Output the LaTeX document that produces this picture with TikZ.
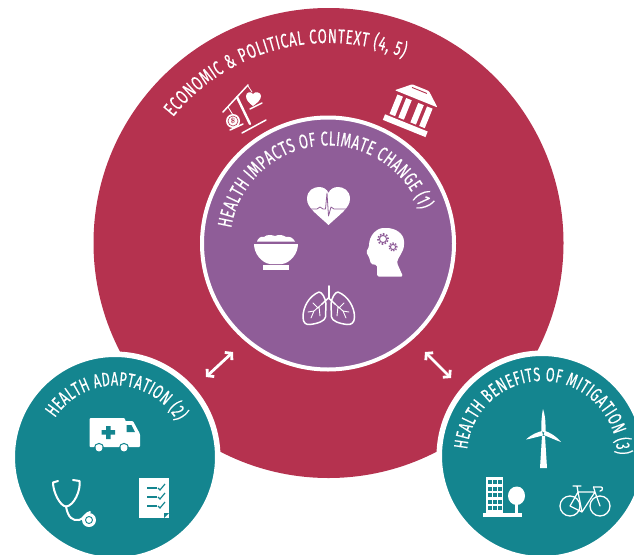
\documentclass[tikz,border=0pt]{standalone}
\usepackage{fontspec}
\usetikzlibrary{decorations.text,arrows.meta}
\newfontfamily\condfont[FakeStretch=0.66,FakeBold=0.25]{Fira Sans}
\definecolor{outerred}{RGB}{181,50,79}
\definecolor{innerpurple}{RGB}{143,93,152}
\definecolor{sideteal}{RGB}{20,133,143}
\newcommand{\arclabel}[6]{% centre,start,end,r,text,size
  \path[decorate,decoration={text along path,text align={fit to path},
    text={|\condfont\fontsize{#6}{#6}\selectfont\color{white}|#5}}]
    (#1) ++(#2:#4pt) arc[start angle=#2,end angle=#3,radius=#4pt];}
\tikzset{
  ring/.style={circle,inner sep=0pt,outer sep=0pt,draw=white},
  icoline/.style={draw=white,line width=1.5pt,line cap=round,line join=round,fill=none},
  bothways/.style={draw=white,line width=2.8pt,{Straight Barb[length=4.5pt,width=10.5pt]}-{Straight Barb[length=4.5pt,width=10.5pt]}}
}
\begin{document}
\begin{tikzpicture}[x=1pt,y=-1pt]
\useasboundingbox (0,0) rectangle (634,554);
\clip (0,0) rectangle (634,554);
% main circles
\node[circle,inner sep=0pt,outer sep=0pt,fill=outerred,minimum size=470pt] (context) at (328.5,243) {};
\node[ring,fill=innerpurple,line width=4pt,minimum size=252pt] (impacts) at (328,243.5) {};
\node[ring,fill=sideteal,line width=5.5pt,minimum size=205.5pt] (adapt) at (115,457) {};
\node[ring,fill=sideteal,line width=5.5pt,minimum size=205.5pt] (mitig) at (542,456) {};
% arrows
\coordinate (la) at (206,377); \coordinate (lb) at (233,352);
\coordinate (ra) at (425,352); \coordinate (rb) at (451,378);
\draw[bothways] (la) -- (lb);
\draw[bothways] (ra) -- (rb);
% labels
\arclabel{context.center}{141}{68}{200}{ECONOMIC {\&} POLITICAL CONTEXT (4, 5)}{20}
\arclabel{impacts.center}{171}{20}{98}{HEALTH IMPACTS OF CLIMATE CHANGE (1)}{20}
\arclabel{adapt.center}{147}{30}{71.5}{HEALTH ADAPTATION (2)}{19.5}
\arclabel{mitig.center}{175}{1}{75}{HEALTH BENEFITS OF MITIGATION (3)}{19.5}
% scales
\draw[icoline] (223,112) -- (248,85);
\draw[icoline,line width=2.4pt] (237,97) -- (250,124);
\draw[icoline] (242,133) -- (266,120);
\draw[icoline,line width=.8pt] (228,107) -- (233,115) (248,86) -- (252,92);
\fill[white] (233,121) circle[radius=7pt];
\draw[outerred,line width=.6pt] (233,121) circle[radius=5pt];
\node[inner sep=0pt,text=outerred,font=\bfseries\fontsize{7.5}{7.5}\selectfont] (dollar) at (233,121) {\$};
\draw[icoline] (230,130) -- (243,124);
\fill[white] (253,106) .. controls (249,103) and (246,100) .. (246,96) .. controls (246,92) and (251,91) .. (253,94) .. controls (255,91) and (261,92) .. (261,96) .. controls (261,100) and (257,103) .. (253,106) -- cycle;
\draw[icoline] (250,109) -- (262,103);
% temple
\begin{scope}[shift={(412,109)},rotate=-22]
\fill[white,rounded corners=1pt] (-9,-23) -- (9,-23) -- (23,-11) -- (-23,-11) -- cycle;
\draw[outerred,line width=.9pt] (-8,-20) -- (8,-20);
\fill[white] (-19,-8) rectangle (-13,13) (-9.5,-8) rectangle (-3.5,13) (3.5,-8) rectangle (9.5,13) (13,-8) rectangle (19,13);
\fill[white] (-23,15) rectangle (23,21);
\end{scope}
% heart
\fill[white] (328.5,225) .. controls (318,215) and (307,208) .. (307,199) .. controls (307,190) and (314,187) .. (319,187) .. controls (323,187) and (327,189) .. (328.5,193) .. controls (330,189) and (334,187) .. (338,187) .. controls (343,187) and (350,190) .. (350,199) .. controls (350,208) and (339,215) .. (328.5,225) -- cycle;
\draw[innerpurple,line width=.8pt,line join=round] (306,209) -- (317,209) -- (320,207) -- (323,209) -- (325.5,209) -- (327,193) -- (328.5,216) -- (331,207) -- (334,209) -- (351,209);
% bowl
\fill[white] (254,244) -- (298,244) .. controls (298,254) and (290,263) .. (282,264) -- (270,264) .. controls (262,263) and (254,254) .. (254,244) -- cycle;
\fill[white] (263,265) rectangle (289,269.5);
\fill[white] (257,241.5) .. controls (258,238) and (261,236) .. (264,237) .. controls (267,234) and (272,235) .. (275,236) .. controls (279,234) and (283,235) .. (286,237) .. controls (290,236) and (293,238) .. (295,241.5) -- cycle;
% head
\fill[white,rounded corners=1.5pt] (369,247) .. controls (369,235) and (377,228) .. (385,228) .. controls (396,228) and (404,234) .. (404,243) .. controls (404,252) and (398,257) .. (397,263) -- (403,276.5) -- (377,276.5) -- (377,265) -- (371,264) -- (369,257) -- (366,252) -- cycle;
\draw[innerpurple,line width=1pt] (383,239) circle[radius=3.6pt] (393,247) circle[radius=2.6pt];
\draw[innerpurple,line width=1.6pt,dash pattern=on 1.6pt off 1.6pt] (383,239) circle[radius=5.2pt];
\draw[innerpurple,line width=1.4pt,dash pattern=on 1.3pt off 1.3pt] (393,247) circle[radius=3.9pt];
% lungs
\draw[icoline,line width=2pt] (328.5,286) -- (328.5,298);
\draw[icoline] (328.5,298) -- (322,304) (328.5,298) -- (335,304);
\draw[icoline] (319,292) .. controls (309,296) and (303,307) .. (303,317) .. controls (303,323) and (306,325) .. (310,324.5) .. controls (318,323.5) and (325,321) .. (325.5,317) -- (326,304) .. controls (325.5,298) and (322,292) .. (319,292) -- cycle;
\draw[icoline] (338,292) .. controls (348,296) and (354.5,307) .. (354.5,317) .. controls (354.5,323) and (351,325) .. (347,324.5) .. controls (339,323.5) and (332,321) .. (331.5,317) -- (331,304) .. controls (331.5,298) and (335,292) .. (338,292) -- cycle;
\draw[icoline,line width=.9pt] (322,304) -- (314,311) -- (311,318) (314,311) -- (308,312) (319,306.5) -- (320,316) (318,308) -- (313,303);
\draw[icoline,line width=.9pt] (335,304) -- (343,311) -- (346,318) (343,311) -- (349,312) (338,306.5) -- (337,316) (339,308) -- (344,303);
% ambulance
\fill[white,rounded corners=1pt] (89.5,418) -- (125,418) -- (125,421) -- (133,421) -- (140,434) -- (140,447) -- (89.5,447) -- cycle;
\fill[white] (99,448) circle[radius=3.5pt] (124,448) circle[radius=3.5pt];
\draw[sideteal,line width=1pt] (99,448) circle[radius=4.6pt] (124,448) circle[radius=4.6pt];
\fill[sideteal] (126.5,425) -- (131.5,425) -- (135,432) -- (126.5,432) -- cycle;
\fill[sideteal] (106,426) rectangle (110.5,439) (101.5,430.2) rectangle (115,434.7);
% stethoscope
\draw[icoline,line width=2pt] (58,481) -- (53,482.5) .. controls (53,492) and (60,506) .. (66,506.5) .. controls (74,506) and (81,490) .. (79.5,481) -- (73,480);
\draw[icoline,line width=2pt] (66,506.5) .. controls (68,518) and (73,521) .. (79,520) .. controls (84,519) and (85,513) .. (90,512);
\fill[white] (89,520) circle[radius=7pt];
\draw[sideteal,line width=.9pt] (89,520) circle[radius=3.5pt];
\fill[white] (89,520) circle[radius=1.6pt];
% checklist
\fill[white] (139,478) -- (169,478) -- (169,518) -- (139,518) -- cycle;
\fill[sideteal] (164,518) -- (169,513) -- (164,513) -- cycle;
\draw[sideteal,line width=1.2pt] (147,488) -- (157,488) (147,497) -- (157,497) (147,506) -- (157,506);
\draw[sideteal,line width=1.2pt] (158,488) -- (160,490) -- (165,484) (158,497) -- (160,499) -- (165,493) (158,506) -- (160,508) -- (165,502);
% wind turbine
\fill[white] (540,468) -- (547,468) -- (545,436) -- (542,436) -- cycle;
\fill[white] (543,409) .. controls (546,418) and (545.5,426) .. (545.5,433) -- (541.5,431) .. controls (541,425) and (541.5,416) .. (543,409) -- cycle;
\fill[white] (526,439.5) .. controls (532,434) and (538,432) .. (542,431) -- (543,435.5) .. controls (538,436.5) and (532,438.5) .. (526,439.5) -- cycle;
\fill[white] (561,442) .. controls (556,436) and (549,432) .. (545,431) -- (543.5,435) .. controls (548,436.5) and (555,440) .. (561,442) -- cycle;
% building and tree
\fill[white] (486,477) rectangle (503,514);
\fill[white] (483,513) rectangle (522,516.5);
\foreach \c in {488.3,493.3,498.3} \foreach \r in {480,486.5,493,499.5,506} \fill[sideteal] (\c,\r) rectangle ++(3.4,4.2);
\fill[white] (515.3,500) rectangle (518,514);
\fill[white] (516.8,486.5) .. controls (522,486.5) and (525,491) .. (525,496) .. controls (525,501) and (521,505) .. (516.8,505) .. controls (512,505) and (508,501) .. (508,496) .. controls (508,491) and (511.5,486.5) .. (516.8,486.5) -- cycle;
% bicycle
\draw[icoline,line width=1.3pt] (570,506) circle[radius=10pt] (600,506) circle[radius=10pt];
\draw[icoline,line width=1.2pt] (570,506) -- (578,492) -- (582,512) -- (570,506) (578,492) -- (595,492) -- (582,512) (595,492) -- (600,506) (595,492) -- (593.5,487);
\draw[icoline,line width=1.3pt] (573,486) -- (581,486) (577,486) -- (578,492);
\draw[icoline,line width=1.3pt] (593.5,487) -- (601,487) .. controls (603,487) and (603,491) .. (600,491);
\end{tikzpicture}
\end{document}
